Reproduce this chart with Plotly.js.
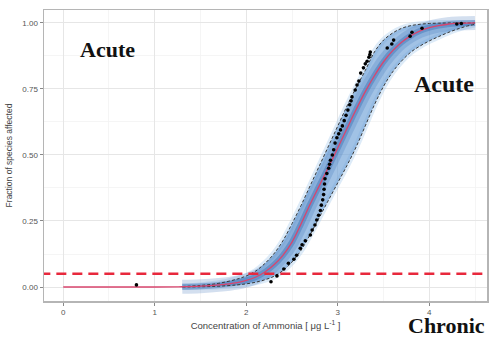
<!DOCTYPE html>
<html>
<head>
<meta charset="utf-8">
<script src="https://cdn.plot.ly/plotly-3.0.1.min.js"></script>
<style>html,body{margin:0;padding:0;background:#fff;}#chart{width:490px;height:338px;}</style>
</head>
<body>
<div id="chart"></div>
<script>
// Fitted species sensitivity curve
const fitConc = [0, 1.0, 1.3, 1.5, 1.7, 1.9, 2.0, 2.1, 2.2, 2.3, 2.4, 2.5, 2.6, 2.7, 2.8, 2.9, 3.0, 3.1, 3.2, 3.3, 3.4, 3.5, 3.6, 3.7, 3.8, 3.9, 4.0, 4.1, 4.2, 4.3, 4.4, 4.5];
const fitted  = [0, 0, 0.001, 0.003, 0.008, 0.017, 0.025, 0.037, 0.056, 0.083, 0.12, 0.17, 0.24, 0.315, 0.385, 0.455, 0.527, 0.60, 0.672, 0.74, 0.80, 0.853, 0.895, 0.928, 0.952, 0.97, 0.982, 0.99, 0.995, 0.998, 0.999, 1.0];

// Confidence band (dashed lines)
const bandConc = [1.3, 1.5, 1.7, 1.9, 2.0, 2.1, 2.2, 2.3, 2.4, 2.5, 2.6, 2.7, 2.8, 2.9, 3.0, 3.1, 3.2, 3.3, 3.4, 3.5, 3.6, 3.7, 3.8, 3.9, 4.0, 4.1, 4.2, 4.3, 4.4, 4.5];
const upperCI  = [0.002, 0.006, 0.014, 0.03, 0.042, 0.06, 0.088, 0.125, 0.175, 0.24, 0.31, 0.385, 0.46, 0.535, 0.61, 0.685, 0.755, 0.82, 0.89, 0.935, 0.962, 0.98, 0.99, 0.995, 0.998, 0.999, 1.0, 1.0, 1.0, 1.0];
const lowerCI  = [0, 0.001, 0.003, 0.008, 0.012, 0.018, 0.027, 0.04, 0.062, 0.095, 0.14, 0.2, 0.265, 0.33, 0.395, 0.46, 0.53, 0.61, 0.69, 0.76, 0.815, 0.857, 0.89, 0.913, 0.932, 0.948, 0.963, 0.976, 0.987, 0.995];

// Species data points
const speciesConc = [0.80, 2.27, 2.335, 2.41, 2.46, 2.52, 2.55, 2.59, 2.61, 2.645, 2.70, 2.72, 2.75, 2.77, 2.79, 2.81, 2.82, 2.835, 2.845, 2.85, 2.855, 2.86, 2.88, 2.90, 2.91, 2.92, 2.94, 2.955, 2.97, 2.99, 3.01, 3.03, 3.05, 3.07, 3.09, 3.11, 3.13, 3.145, 3.155, 3.19, 3.21, 3.23, 3.25, 3.28, 3.30, 3.32, 3.34, 3.35, 3.355, 3.54, 3.59, 3.61, 3.79, 3.81, 3.92, 4.30, 4.35];
const speciesFrac = [0.008, 0.02, 0.042, 0.068, 0.09, 0.105, 0.12, 0.147, 0.16, 0.175, 0.197, 0.216, 0.235, 0.254, 0.272, 0.29, 0.31, 0.33, 0.35, 0.37, 0.39, 0.41, 0.43, 0.45, 0.465, 0.48, 0.50, 0.52, 0.545, 0.565, 0.58, 0.595, 0.61, 0.63, 0.65, 0.67, 0.69, 0.705, 0.72, 0.746, 0.765, 0.78, 0.81, 0.83, 0.845, 0.855, 0.87, 0.88, 0.89, 0.905, 0.92, 0.935, 0.95, 0.965, 0.98, 0.996, 0.998];

// Threshold line
const thresholdX = [-0.25, 4.7];
const thresholdY = [0.05, 0.05];

const xTicks = [0, 1, 2, 3, 4];
const yTicks = [0, 0.25, 0.5, 0.75, 1.0];
const yTickText = ["0.00", "0.25", "0.50", "0.75", "1.00"];

const traces = [
  {x: bandConc, y: lowerCI, mode: 'lines', line: {color: 'rgba(150,192,232,0.32)', width: 6, shape: 'spline'}, hoverinfo: 'skip', showlegend: false},
  {x: bandConc, y: upperCI, mode: 'lines', line: {color: 'rgba(150,192,232,0.32)', width: 6, shape: 'spline'}, hoverinfo: 'skip', showlegend: false},
  {x: bandConc, y: lowerCI, mode: 'lines', line: {color: 'rgba(0,0,0,0)', width: 0, shape: 'spline'}, hoverinfo: 'skip', showlegend: false},
  {x: bandConc, y: upperCI, mode: 'lines', fill: 'tonexty', fillcolor: 'rgba(110,162,215,0.65)', line: {color: 'rgba(0,0,0,0)', width: 0, shape: 'spline'}, hoverinfo: 'skip', showlegend: false},
  {x: fitConc.slice(2), y: fitted.slice(2), mode: 'lines', line: {color: 'rgba(55,110,180,0.22)', width: 14, shape: 'spline'}, hoverinfo: 'skip', showlegend: false},
  {x: fitConc.slice(2), y: fitted.slice(2), mode: 'lines', line: {color: 'rgba(40,95,170,0.35)', width: 6, shape: 'spline'}, hoverinfo: 'skip', showlegend: false},
  {x: bandConc, y: lowerCI, mode: 'lines', line: {color: '#3a3a3a', width: 1, dash: '3px,2px', shape: 'spline'}, showlegend: false},
  {x: bandConc, y: upperCI, mode: 'lines', line: {color: '#3a3a3a', width: 1, dash: '3px,2px', shape: 'spline'}, showlegend: false},
  {x: fitConc, y: fitted, mode: 'lines', line: {color: '#d9456e', width: 1.3, shape: 'spline'}, showlegend: false},
  {x: thresholdX, y: thresholdY, mode: 'lines', line: {color: '#e8283c', width: 2.5, dash: '10px,6px'}, showlegend: false},
  {x: speciesConc, y: speciesFrac, mode: 'markers', marker: {color: '#000', size: 3.6}, showlegend: false}
];

const axisFont = {family: 'Liberation Sans, Arial, sans-serif', size: 8, color: '#555'};

const layout = {
  width: 490, height: 338,
  margin: {l: 44, r: 3, t: 10, b: 37},
  paper_bgcolor: '#fff', plot_bgcolor: '#fff',
  showlegend: false,
  xaxis: {
    range: [-0.21, 4.63],
    tickvals: xTicks, ticktext: xTicks.map(String),
    ticks: 'outside', ticklen: 3, tickcolor: '#888', tickwidth: 1,
    tickfont: axisFont,
    showgrid: true, gridcolor: '#e6e6e6', gridwidth: 1,
    minor: {dtick: 0.5, tick0: 0, showgrid: true, gridcolor: '#f3f3f3', gridwidth: 0.8},
    showline: true, linecolor: '#b5b5b5', linewidth: 1.5, mirror: true,
    zeroline: false,
    title: {text: 'Concentration of Ammonia [ μg L<sup>-1</sup> ]', font: {family: 'Liberation Sans, Arial, sans-serif', size: 9.5, color: '#444'}, standoff: 6}
  },
  yaxis: {
    range: [-0.053, 1.049],
    tickvals: yTicks, ticktext: yTickText,
    ticks: 'outside', ticklen: 3, tickcolor: '#888', tickwidth: 1,
    tickfont: axisFont,
    showgrid: true, gridcolor: '#e6e6e6', gridwidth: 1,
    minor: {dtick: 0.125, tick0: 0, showgrid: true, gridcolor: '#f3f3f3', gridwidth: 0.8},
    showline: true, linecolor: '#b5b5b5', linewidth: 1.5, mirror: true,
    zeroline: false,
    title: {text: 'Fraction of species affected', font: {family: 'Liberation Sans, Arial, sans-serif', size: 8.5, color: '#444'}, standoff: 8}
  },
  annotations: [
    {text: '<b>Acute</b>', xref: 'paper', yref: 'paper', x: (107 - 44) / 443, y: (301 - 50) / 291, xanchor: 'center', yanchor: 'middle', showarrow: false, font: {family: 'Liberation Serif, Times New Roman, serif', size: 22, color: '#111'}},
    {text: '<b>Acute</b>', xref: 'paper', yref: 'paper', x: (444 - 44) / 443, y: (301 - 84) / 291, xanchor: 'center', yanchor: 'middle', showarrow: false, font: {family: 'Liberation Serif, Times New Roman, serif', size: 24, color: '#111'}},
    {text: '<b>Chronic</b>', xref: 'paper', yref: 'paper', x: (446 - 44) / 443, y: (301 - 325) / 291, xanchor: 'center', yanchor: 'middle', showarrow: false, borderpad: 0, font: {family: 'Liberation Serif, Times New Roman, serif', size: 22, color: '#111'}}
  ]
};

Plotly.newPlot('chart', traces, layout, {displayModeBar: false, staticPlot: true});
</script>
</body>
</html>
